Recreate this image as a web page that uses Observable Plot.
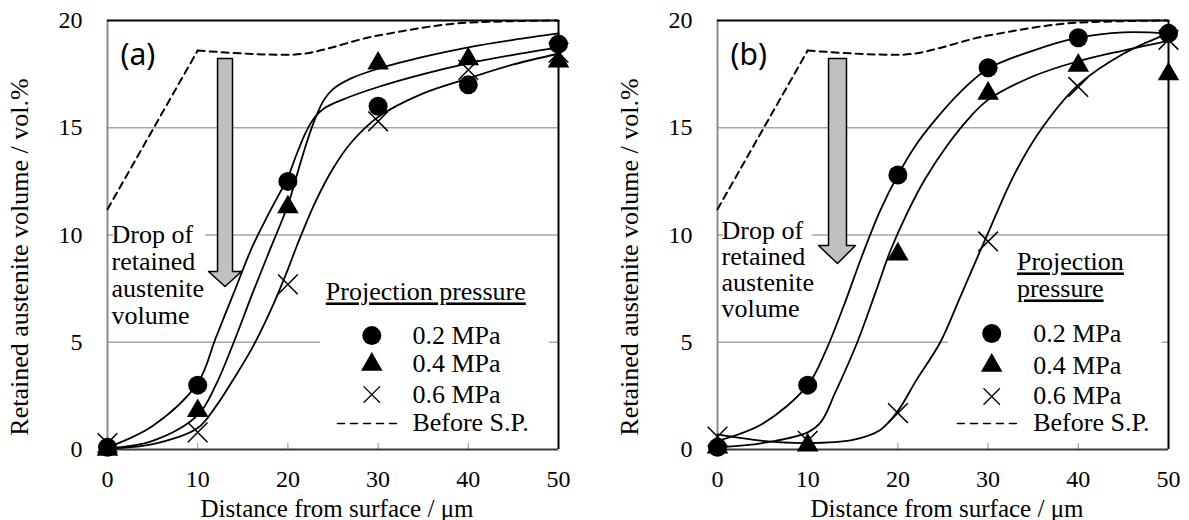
<!DOCTYPE html>
<html><head><meta charset="utf-8">
<script src="https://cdn.jsdelivr.net/npm/d3@7"></script>
<script src="https://cdn.jsdelivr.net/npm/@observablehq/plot@0.6"></script>
<style>
body{margin:0;background:#fff;}
#wrap{display:flex;width:1189px;height:520px;overflow:hidden;}
</style></head><body><div id="wrap"></div>
<script>
// ---- data ----
const distance = [0, 10, 20, 30, 40, 50];
const xTicks = [0, 10, 20, 30, 40, 50];
const yTicks = [0, 5, 10, 15, 20];
const pressures = ["0.2 MPa", "0.4 MPa", "0.6 MPa"];
const beforeLabel = "Before S.P.";
const legendTitleA = "Projection pressure";
const legendTitleB = "Projection\npressure";
const annotation = "Drop of\nretained\naustenite\nvolume";
const xLabel = "Distance from surface / μm";
const yLabel = "Retained austenite volume / vol.%";

const a_p02 = [0.1, 3.0, 12.5, 16.0, 17.0, 18.9];
const a_p04 = [0.0, 1.8, 11.3, 18.0, 18.2, 18.1];
const a_p06 = [0.3, 0.8, 7.7, 15.3, 17.7, 18.5];
const b_p02 = [0.1, 3.0, 12.8, 17.8, 19.2, 19.4];
const b_p04 = [0.1, 0.2, 9.1, 16.6, 17.9, 17.5];
const b_p06 = [0.6, 0.4, 1.7, 9.7, 16.9, 19.1];
const beforeSP = [11.2, 18.6, 18.4, 19.3, 19.9, 20.0];

// fitted curves
const a_fit02_x = [0, 5, 10, 12, 14, 16, 18, 20, 21, 22, 23, 24, 26, 30, 35, 40, 45, 50];
const a_fit02_y = [0.1, 1.1, 3.1, 5.2, 7.3, 9.4, 11.1, 12.7, 13.8, 14.8, 15.5, 15.9, 16.3, 16.9, 17.5, 18.0, 18.4, 18.75];
const a_fit04_x = [0, 5, 10, 12, 14, 16, 18, 20, 21, 22, 23, 24, 25, 27, 30, 35, 40, 45, 50];
const a_fit04_y = [0.05, 0.4, 1.6, 3.0, 5.0, 7.2, 9.3, 11.4, 12.8, 14.2, 15.4, 16.3, 16.8, 17.3, 17.75, 18.3, 18.75, 19.1, 19.4];
const a_fit06_x = [0, 5, 10, 12, 14, 16, 18, 20, 21, 23, 25, 27, 30, 35, 40, 45, 50];
const a_fit06_y = [0.05, 0.25, 1.0, 2.0, 3.3, 4.7, 6.4, 8.4, 9.5, 11.5, 13.1, 14.3, 15.5, 16.6, 17.3, 17.95, 18.45];
const b_fit02_x = [0, 5, 10, 12, 14, 16, 18, 20, 22, 24, 27, 30, 35, 40, 45, 50];
const b_fit02_y = [0.4, 1.2, 3.0, 4.6, 6.7, 9.0, 11.1, 12.8, 14.2, 15.3, 16.7, 17.75, 18.6, 19.2, 19.45, 19.4];
const b_fit04_x = [0, 5, 10, 11.5, 13, 15.5, 17.5, 19.2, 21, 23, 25.5, 28, 30, 35, 40, 45, 50];
const b_fit04_y = [0.1, 0.3, 0.8, 1.3, 2.6, 5.0, 7.3, 9.3, 11.0, 12.6, 14.2, 15.5, 16.3, 17.4, 18.1, 18.6, 19.05];
const b_fit06_x = [0, 5, 10, 15, 18, 20, 22, 24.7, 27, 30, 33, 36, 40, 45, 50];
const b_fit06_y = [0.7, 0.4, 0.3, 0.45, 0.9, 1.8, 3.2, 5.0, 7.2, 10.1, 12.9, 15.0, 17.0, 18.45, 19.4];

// ---- layout (annotation placement, in data units) ----
const layoutA = {
  tag: "(a)", width: 610, legendTitle: legendTitleA,
  textBox: {x1: 0.67, x2: 10.9, y1: 5.6, y2: 10.6},
  legendBox: {x1: 23.6, x2: 49.0, y1: 0.15, y2: 8.2},
  annot: {x: 0.45, y: 5.83, lh: 1.04},
  arrow: [[12.2,18.23],[13.86,18.23],[13.86,8.3],[14.86,8.3],[13.03,7.6],[11.2,8.3],[12.2,8.3],[12.2,18.23]],
  title: {x: 24.2, y: 6.95, lh: 1.04},
  symX: 29.3, symY: [5.31, 3.96, 2.56],
  textX: 33.8, textY: [4.94, 3.59, 2.19, 0.84],
  dash: {x1: 25.5, x2: 32.3, y: 1.21}
};
const layoutB = {
  tag: "(b)", width: 579, legendTitle: legendTitleB,
  textBox: {x1: 0.67, x2: 10.5, y1: 5.9, y2: 10.6},
  legendBox: {x1: 25.6, x2: 49.3, y1: 0.15, y2: 9.3},
  annot: {x: 0.45, y: 6.2, lh: 0.99},
  arrow: [[12.31,18.23],[14.3,18.23],[14.3,9.51],[15.3,9.51],[13.3,8.67],[11.2,9.51],[12.31,9.51],[12.31,18.23]],
  title: {x: 33.2, y: 7.09, lh: 1.04},
  symX: 30.4, symY: [5.41, 3.92, 2.47],
  textX: 35.0, textY: [4.99, 3.54, 2.10, 0.84],
  dash: {x1: 26.6, x2: 33.6, y: 1.21}
};

const SERIF = "Liberation Serif";
const FS = 26;

function makePanel(L, p02, p04, p06, fits) {
  const pts = (arr) => distance.map((d, i) => ({x: d, y: arr[i]}));
  const fitRows = fits.flatMap(([fx, fy], k) => fx.map((x, i) => ({x, y: fy[i], s: k})));
  const before = pts(beforeSP);
  const legRows = pressures.map((p, i) => ({x: L.textX, y: L.textY[i], t: p}));
  legRows.push({x: L.textX, y: L.textY[3], t: beforeLabel});
  const svg = Plot.plot({
    width: L.width, height: 520,
    marginLeft: 107, marginRight: L.width - 558, marginTop: 20, marginBottom: 71,
    x: {domain: [0, 50], label: null},
    y: {domain: [0, 20], label: null},
    style: {background: "white", color: "black", overflow: "visible", fontFamily: "'Liberation Serif', serif", fontSize: "24px"},
    marks: [
      Plot.gridY([5, 10, 15], {stroke: "#a6a6a6", strokeOpacity: 1, strokeWidth: 1.5}),
      Plot.rect([L.textBox], {x1: "x1", x2: "x2", y1: "y1", y2: "y2", fill: "white"}),
      Plot.rect([L.legendBox], {x1: "x1", x2: "x2", y1: "y1", y2: "y2", fill: "white"}),
      Plot.ruleX([0], {stroke: "#8c8c8c", strokeWidth: 2}),
      Plot.ruleY([20], {stroke: "black", strokeWidth: 2}),
      Plot.ruleX([50], {stroke: "black", strokeWidth: 2}),
      Plot.axisX({ticks: [10, 20, 30, 40], tickSize: -6, tickFormat: () => "", stroke: "#8c8c8c", label: null}),
      Plot.ruleY([0], {stroke: "#3a3a3a", strokeWidth: 2}),
      Plot.axisX({ticks: xTicks, tickSize: 0, tickPadding: 20, label: null, fontFamily: SERIF, fontSize: 24}),
      Plot.axisY({ticks: yTicks, tickSize: 0, tickPadding: 25, label: null, fontFamily: SERIF, fontSize: 24}),
      Plot.line(L.arrow, {x: d => d[0], y: d => d[1], fill: "#c0c0c0", stroke: "black", strokeWidth: 1.5}),
      Plot.text([L.annot], {x: "x", y: "y", text: () => annotation, textAnchor: "start", lineAnchor: "bottom", lineHeight: L.annot.lh, fontFamily: SERIF, fontSize: FS}),
      Plot.line(before.slice(0, 2), {x: "x", y: "y", stroke: "black", strokeWidth: 2, strokeDasharray: "7,5"}),
      Plot.line(before.slice(1), {x: "x", y: "y", stroke: "black", strokeWidth: 2, strokeDasharray: "7,5", curve: "monotone-x"}),
      Plot.line(fitRows, {x: "x", y: "y", z: "s", stroke: "black", strokeWidth: 1.8, curve: "catmull-rom"}),
      Plot.dot(pts(p02), {x: "x", y: "y", symbol: "circle", r: 9.5, fill: "black"}),
      Plot.dot(pts(p04), {x: "x", y: "y", symbol: "triangle", r: 8, fill: "black"}),
      Plot.dot(pts(p06), {x: "x", y: "y", symbol: "times", r: 9, stroke: "black", strokeWidth: 1.5}),
      // legend
      Plot.text([L.title], {x: "x", y: "y", text: () => L.legendTitle, textAnchor: "start", lineAnchor: "bottom", lineHeight: L.title.lh, fontFamily: SERIF, fontSize: FS}),
      Plot.dot([{x: L.symX, y: L.symY[0]}], {x: "x", y: "y", symbol: "circle", r: 9.5, fill: "black"}),
      Plot.dot([{x: L.symX, y: L.symY[1]}], {x: "x", y: "y", symbol: "triangle", r: 8, fill: "black"}),
      Plot.dot([{x: L.symX, y: L.symY[2]}], {x: "x", y: "y", symbol: "times", r: 7.5, stroke: "black", strokeWidth: 1.3}),
      Plot.line([{x: L.dash.x1, y: L.dash.y}, {x: L.dash.x2, y: L.dash.y}], {x: "x", y: "y", stroke: "black", strokeWidth: 1.5, strokeDasharray: "7,6"}),
      Plot.text(legRows, {x: "x", y: "y", text: "t", textAnchor: "start", lineAnchor: "bottom", fontFamily: SERIF, fontSize: FS}),
      // titles
      Plot.text([L.tag], {text: d => d, frameAnchor: "top-left", dx: 13, dy: 44, textAnchor: "start", lineAnchor: "bottom", fontFamily: "Noto Sans", fontSize: 30}),
      Plot.text([xLabel], {text: d => d, frameAnchor: "bottom", dx: 4, dy: 67, textAnchor: "middle", lineAnchor: "bottom", fontFamily: SERIF, fontSize: 25}),
      Plot.text([yLabel], {text: d => d, frameAnchor: "left", rotate: -90, dx: -80, dy: 22, textAnchor: "middle", lineAnchor: "bottom", fontFamily: SERIF, fontSize: FS})
    ]
  });
  svg.querySelectorAll("text").forEach(t => {
    if (t.textContent.startsWith("Projection")) {
      t.setAttribute("text-decoration", "underline");
    }
  });
  return svg;
}

const wrap = document.getElementById("wrap");
wrap.appendChild(makePanel(layoutA, a_p02, a_p04, a_p06,
  [[a_fit02_x, a_fit02_y], [a_fit04_x, a_fit04_y], [a_fit06_x, a_fit06_y]]));
wrap.appendChild(makePanel(layoutB, b_p02, b_p04, b_p06,
  [[b_fit02_x, b_fit02_y], [b_fit04_x, b_fit04_y], [b_fit06_x, b_fit06_y]]));
</script></body></html>
